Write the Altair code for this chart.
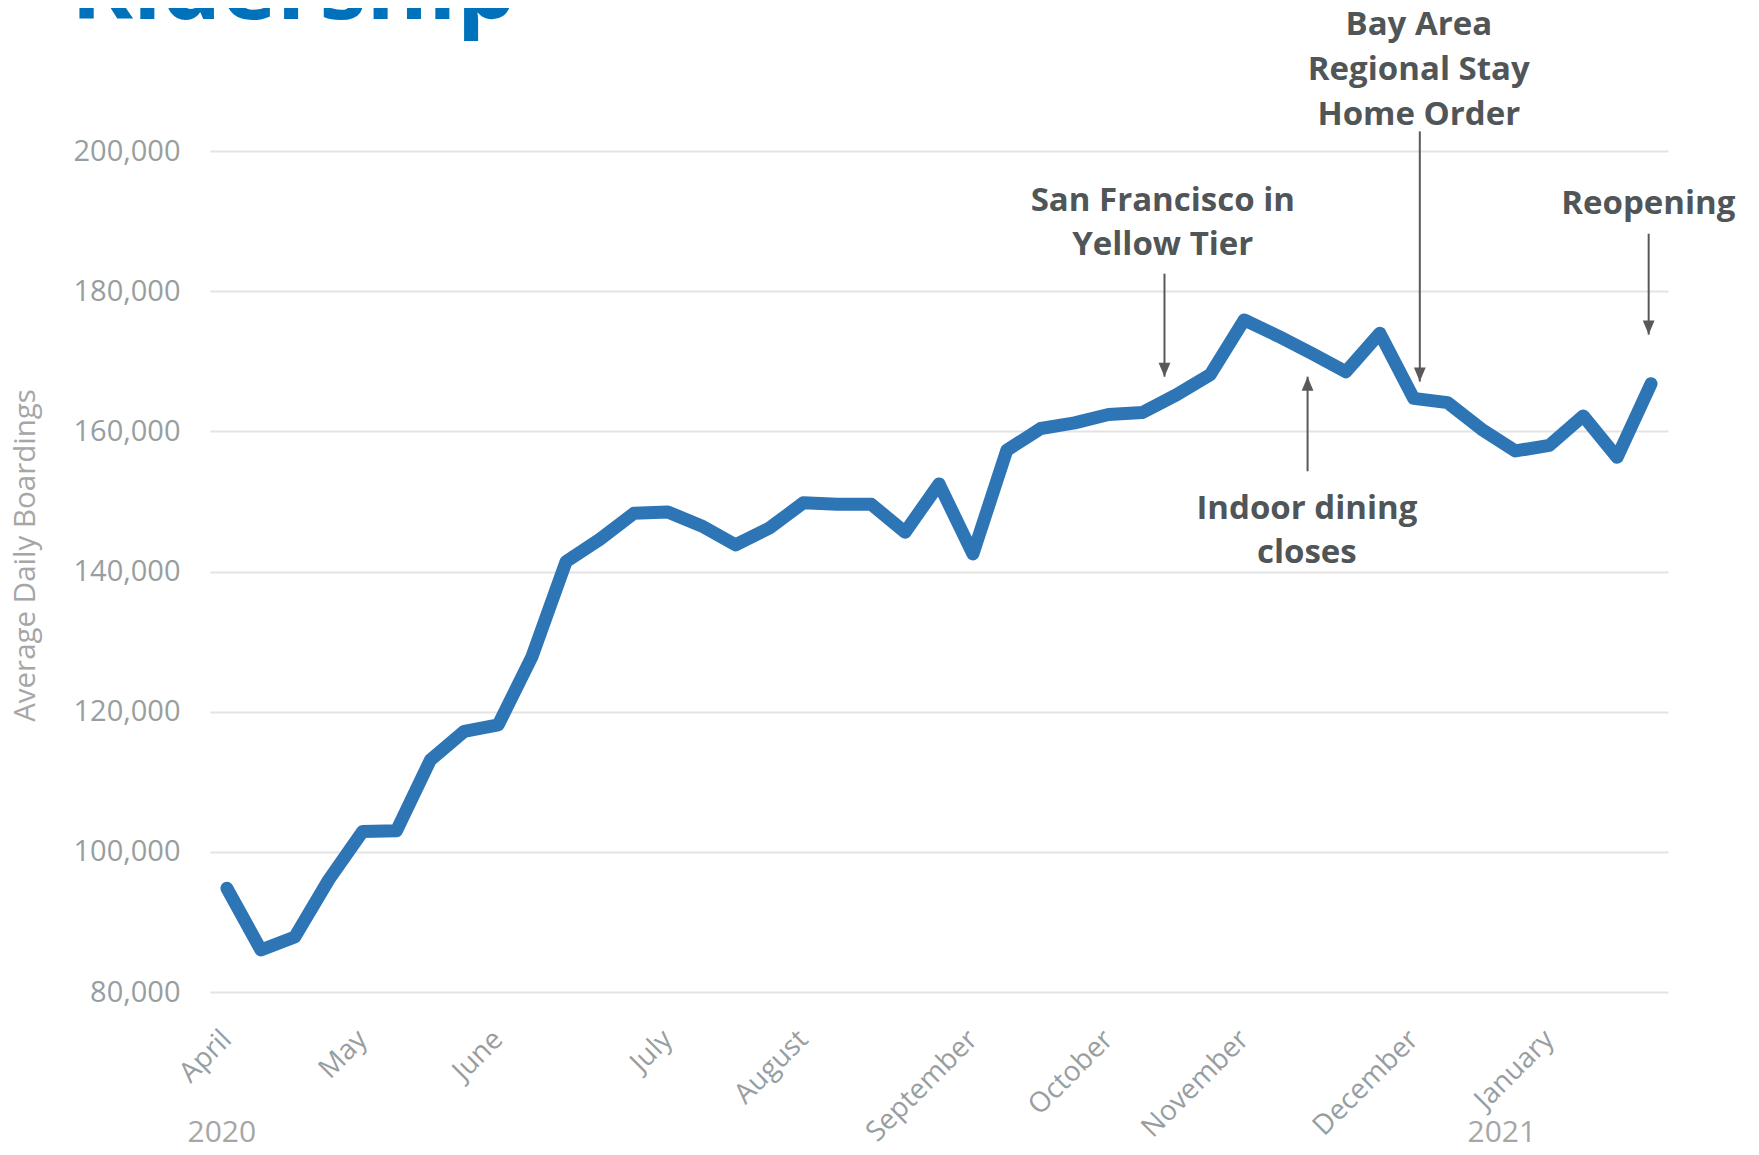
import altair as alt
import pandas as pd

# ---- data ----
week_index = list(range(43))
boardings = [
    94800, 86000, 87850, 96000, 102900, 103000, 113100, 117200, 118100, 127900,
    141400, 144600, 148300, 148500, 146500, 143800, 146200, 149800, 149600, 149600,
    145600, 152500, 142500, 157300, 160400, 161200, 162400, 162700, 165200, 168100,
    175900, 173600, 171100, 168500, 174000, 164700, 164100, 160300, 157200, 158000,
    162200, 156300, 166800,
]
month_names = ["April", "May", "June", "July", "August", "September",
               "October", "November", "December", "January"]
month_first_week = [0, 4, 8, 13, 17, 22, 26, 30, 35, 39]
y_ticks = [80000, 100000, 120000, 140000, 160000, 180000, 200000]

years = ["2020", "2021"]
year_x = [-0.15, 37.6]

ann_text = ["San Francisco in", "Yellow Tier", "Bay Area", "Regional Stay",
            "Home Order", "Reopening", "Indoor dining", "closes"]
ann_x = [27.6, 27.6, 35.15, 35.15, 35.15, 41.92, 31.85, 31.85]
ann_y = [192900, 186600, 218000, 211600, 205200, 192400, 148950, 142600]

arrow_x = [27.65, 35.18, 41.93, 31.87]
arrow_from = [182500, 202800, 188200, 154300]
arrow_tip = [167800, 167100, 173800, 167800]
arrow_dir = ["down", "down", "down", "up"]

title_text = ["Ridership"]

# ---- tables ----
df = pd.DataFrame({"week": week_index, "boardings": boardings})
ann = pd.DataFrame({"text": ann_text, "x": ann_x, "y": ann_y})
arr = pd.DataFrame({"x": arrow_x, "y1": arrow_from, "y2": arrow_tip, "dir": arrow_dir})
yr = pd.DataFrame({"text": years, "x": year_x})
ttl = pd.DataFrame({"text": title_text})

FONT = "Open Sans"
LABEL_GRAY = "#979ea1"
ANN_GRAY = "#505558"
ARROW_GRAY = "#595959"

xscale = alt.Scale(domain=[-0.5, 42.5], nice=False, zero=False)
yscale = alt.Scale(domain=[80000, 200000], nice=False, zero=False)

names_js = "[" + ",".join(f"'{m}'" for m in month_names) + "]"
idx_js = "[" + ",".join(str(i) for i in month_first_week) + "]"

x_axis = alt.Axis(
    values=month_first_week,
    labelExpr=f"{names_js}[indexof({idx_js}, datum.value)]",
    grid=False, ticks=False, domain=False,
    labelAngle=315, labelAlign="right", labelBaseline="middle",
    labelFont=FONT, labelFontSize=28, labelColor=LABEL_GRAY,
    labelPadding=43, title=None, labelOverlap=False,
)
y_axis = alt.Axis(
    values=y_ticks, format=",.0f", grid=True, gridColor="#e3e3e3", gridWidth=2,
    ticks=False, domain=False,
    labelFont=FONT, labelFontSize=29, labelColor=LABEL_GRAY, labelPadding=30,
    title="Average Daily Boardings", titleFont=FONT, titleFontSize=29.5,
    titleFontWeight="normal", titleColor="#a6a6a6", titlePadding=33, titleY=404,
)

line = alt.Chart(df).mark_line(
    color="#2e75b6", strokeWidth=13, strokeCap="round", strokeJoin="round"
).encode(
    x=alt.X("week:Q", scale=xscale, axis=x_axis),
    y=alt.Y("boardings:Q", scale=yscale, axis=y_axis),
)

shafts = alt.Chart(arr).mark_rule(color=ARROW_GRAY, strokeWidth=2).encode(
    x=alt.X("x:Q", scale=xscale), y=alt.Y("y1:Q", scale=yscale), y2="y2:Q"
)
heads = alt.Chart(arr).mark_point(
    filled=True, color=ARROW_GRAY, size=784, opacity=1, strokeWidth=0
).encode(
    x=alt.X("x:Q", scale=xscale),
    y=alt.Y("y2:Q", scale=yscale),
    shape=alt.Shape("dir:N", scale=alt.Scale(
        domain=["down", "up"],
        range=["M-0.42,-1L0.42,-1L0,0Z", "M-0.42,1L0.42,1L0,0Z"]), legend=None),
)

ann_layer = alt.Chart(ann).mark_text(
    font=FONT, fontSize=33, fontWeight="bold", color=ANN_GRAY,
    align="center", baseline="middle"
).encode(
    x=alt.X("x:Q", scale=xscale), y=alt.Y("y:Q", scale=yscale), text="text:N"
)

year_layer = alt.Chart(yr).mark_text(
    font=FONT, fontSize=30, color="#a6a6a6", align="center", baseline="middle"
).encode(
    x=alt.X("x:Q", scale=xscale), y=alt.value(982), text="text:N"
)

title_layer = alt.Chart(ttl).mark_text(
    font=FONT, fontSize=94, fontWeight="bold", color="#0072bc",
    align="left", baseline="alphabetic"
).encode(
    x=alt.value(-139), y=alt.value(-132), text="text:N"
)

chart = alt.layer(line, shafts, heads, ann_layer, year_layer, title_layer).properties(
    width=1458, height=841,
    background="white",
    autosize=alt.AutoSizeParams(type="none"),
    padding={"left": 202, "top": 143, "right": 83, "bottom": 155},
).configure_view(stroke="transparent", strokeWidth=0)

chart.save("out.html", embed_options={"renderer": "svg", "actions": False})
